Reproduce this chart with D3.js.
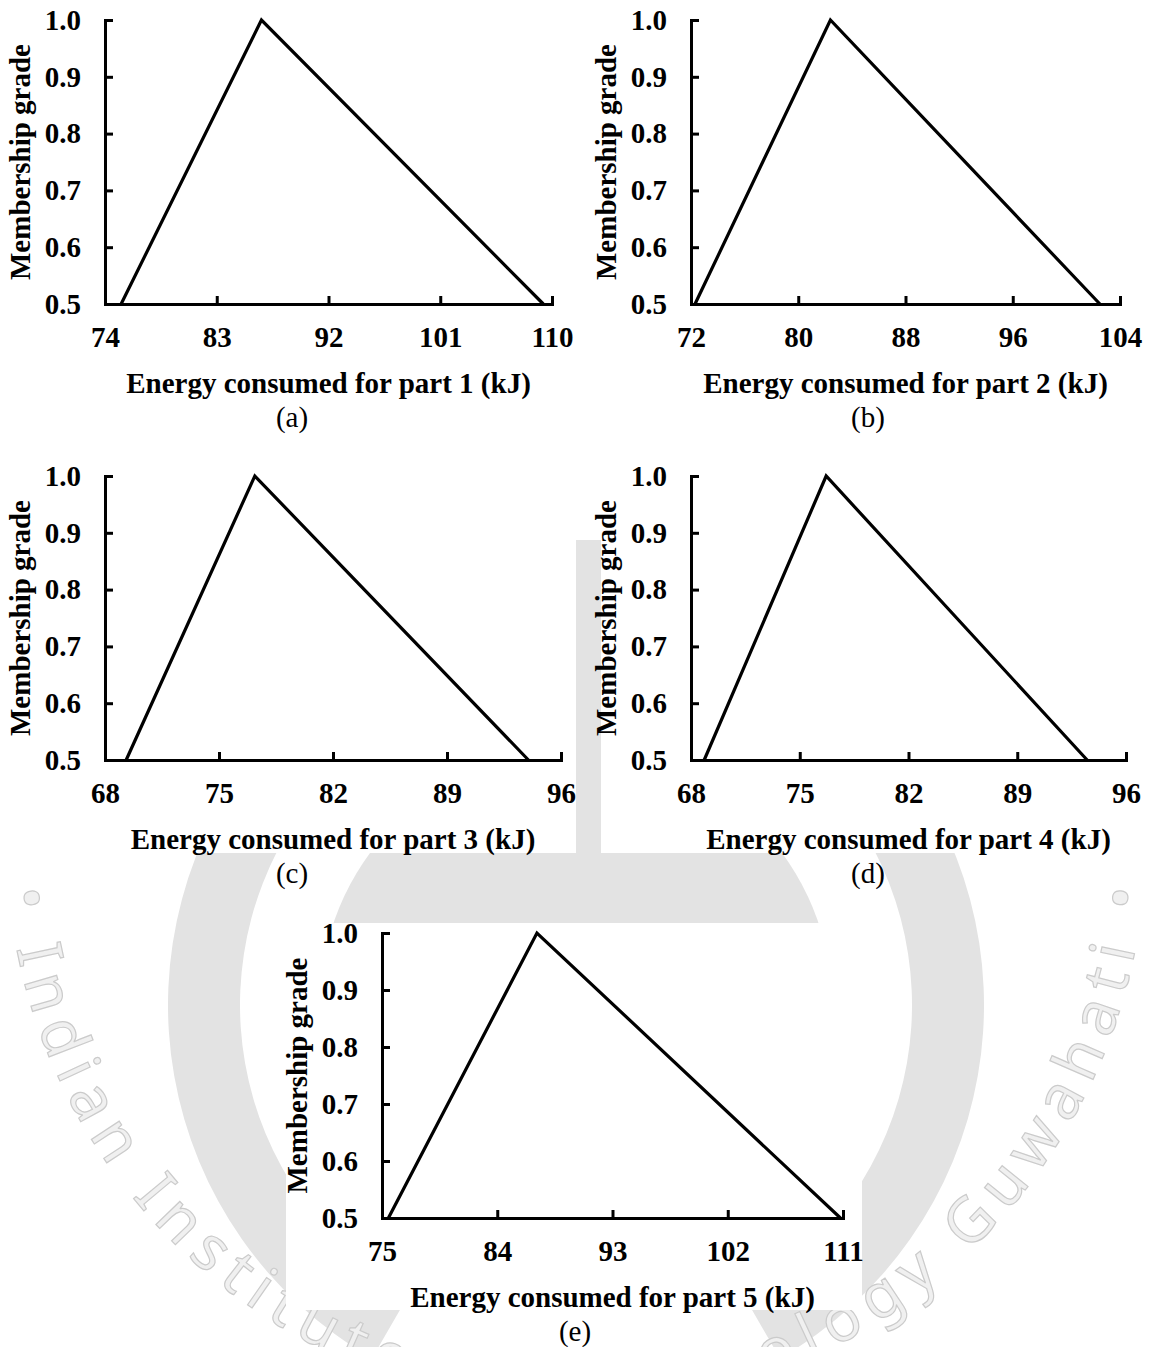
<!DOCTYPE html>
<html>
<head>
<meta charset="utf-8">
<script src="https://cdn.jsdelivr.net/npm/d3@7"></script>
<style>
  html, body { margin: 0; padding: 0; background: #fff; }
  svg { display: block; }
  .axis path, .axis line { stroke: #000; stroke-width: 3; }
  .axis text { font-family: "Liberation Serif", "Times New Roman", serif; font-weight: bold; font-size: 29px; fill: #000; }
  .title { font-family: "Liberation Serif", "Times New Roman", serif; font-weight: bold; font-size: 29px; fill: #000; }
  .tag { font-family: "Liberation Serif", "Times New Roman", serif; font-size: 29px; fill: #000; }
  .sealGlyph { font-family: "Noto Sans", "DejaVu Sans", sans-serif; font-size: 62px; fill: #f0f0f0; stroke: #cbcbcb; stroke-width: 1.2; white-space: pre; }
</style>
</head>
<body>
<svg id="chart" width="1151" height="1347"></svg>
<script>
// Triangular fuzzy membership functions of the energy consumed per part
const panelTags = ["(a)", "(b)", "(c)", "(d)", "(e)"];
const xTitles = [
  "Energy consumed for part 1 (kJ)",
  "Energy consumed for part 2 (kJ)",
  "Energy consumed for part 3 (kJ)",
  "Energy consumed for part 4 (kJ)",
  "Energy consumed for part 5 (kJ)"
];
const yTitle = "Membership grade";
const xTickValues = [
  [74, 83, 92, 101, 110],
  [72, 80, 88, 96, 104],
  [68, 75, 82, 89, 96],
  [68, 75, 82, 89, 96],
  [75, 84, 93, 102, 111]
];
const yTickValues = [0.5, 0.6, 0.7, 0.8, 0.9, 1.0];
const lowerEnergy = [75.3, 72.3, 69.3, 68.85, 75.5];
const peakEnergy  = [86.6, 82.4, 77.2, 76.7, 87.1];
const upperEnergy = [109.3, 102.5, 94.0, 93.5, 110.8];
const gradeAtEnds = 0.5;
const gradeAtPeak = 1.0;
const watermarkText = "Indian Institute of Technology Guwahati";

// plot-area placement of each panel (left, right, top, bottom) and its caption column
const frames = [
  { l: 105, r: 552,  t: 20,  b: 304,  tagX: 292 },
  { l: 691, r: 1120, t: 20,  b: 304,  tagX: 868 },
  { l: 105, r: 561,  t: 476, b: 760,  tagX: 292 },
  { l: 691, r: 1126, t: 476, b: 760,  tagX: 868 },
  { l: 382, r: 843,  t: 933, b: 1218, tagX: 575 }
];
// white backing cards over the faint seal
const cards = [
  { x: 0,   y: 0,   w: 1151, h: 440 },
  { x: 0,   y: 465, w: 576,  h: 388 },
  { x: 601, y: 465, w: 550,  h: 388 },
  { x: 286, y: 923, w: 576,  h: 387 }
];

const svg = d3.select("#chart");

// ---- faint institutional seal in the background ----
const seal = svg.append("g").attr("class", "seal");
const sealGrey = "#e3e3e3";
const cx = 576, cy = 1005;
const ringArc = d3.arc()
  .innerRadius(336).outerRadius(408)
  .startAngle(Math.PI + Math.PI / 6)
  .endAngle(3 * Math.PI - Math.PI / 6);
seal.append("path")
  .attr("transform", `translate(${cx},${cy})`)
  .attr("d", ringArc())
  .attr("fill", sealGrey);
seal.append("circle")
  .attr("cx", cx).attr("cy", cy).attr("r", 256)
  .attr("fill", sealGrey);
seal.append("rect")
  .attr("x", 560).attr("y", 540).attr("width", 56).attr("height", 330)
  .attr("fill", sealGrey);

// lettering set glyph by glyph along the lower arc, tops towards the centre
const tcx = 576, tcy = 839, tr = 570;
const a0 = 175 * Math.PI / 180, a1 = 5 * Math.PI / 180;
const arcLen = tr * (a0 - a1);
const glyphs = Array.from("\u2022 " + watermarkText + " \u2022");
const probe = seal.append("text").attr("class", "sealGlyph");
const widthOf = s => { probe.text(s); return probe.node().getComputedTextLength(); };
const spaceW = widthOf("a a") - widthOf("aa");
const widths = glyphs.map(c => c === " " ? spaceW : widthOf(c));
probe.remove();
const natural = d3.sum(widths);
const extra = (arcLen - natural) / (glyphs.length - 1);
let run = 0;
const placed = glyphs.map((c, i) => {
  const s = run + widths[i] / 2;
  run += widths[i] + extra;
  const th = a0 - s / tr;
  return {
    c,
    x: tcx + tr * Math.cos(th),
    y: tcy + tr * Math.sin(th),
    rot: Math.atan2(-Math.cos(th), Math.sin(th)) * 180 / Math.PI
  };
}).filter(d => d.c !== " ");
seal.selectAll("text.sealGlyph")
  .data(placed)
  .join("text")
  .attr("class", "sealGlyph")
  .attr("text-anchor", "middle")
  .attr("transform", d => `translate(${d.x},${d.y}) rotate(${d.rot})`)
  .text(d => d.c);

svg.selectAll("rect.card")
  .data(cards)
  .join("rect")
  .attr("class", "card")
  .attr("x", d => d.x).attr("y", d => d.y)
  .attr("width", d => d.w).attr("height", d => d.h)
  .attr("fill", "#fff");

// ---- the five membership panels ----
frames.forEach((f, i) => {
  const ticks = xTickValues[i];
  const x = d3.scaleLinear().domain([ticks[0], ticks[ticks.length - 1]]).range([f.l, f.r]);
  const y = d3.scaleLinear().domain([gradeAtEnds, gradeAtPeak]).range([f.b, f.t]);
  const g = svg.append("g").attr("class", "panel");

  g.append("g")
    .attr("class", "axis")
    .attr("transform", `translate(0,${f.b})`)
    .call(d3.axisBottom(x).tickValues(ticks).tickFormat(d3.format("d"))
      .tickSizeInner(-8).tickSizeOuter(0).tickPadding(22));

  g.append("g")
    .attr("class", "axis")
    .attr("transform", `translate(${f.l},0)`)
    .call(d3.axisLeft(y).tickValues(yTickValues).tickFormat(d3.format(".1f"))
      .tickSizeInner(-8).tickSizeOuter(0).tickPadding(24));

  g.selectAll(".axis path").attr("stroke-linecap", "square");

  const pts = [
    [lowerEnergy[i], gradeAtEnds],
    [peakEnergy[i], gradeAtPeak],
    [upperEnergy[i], gradeAtEnds]
  ];
  g.append("path")
    .datum(pts)
    .attr("fill", "none")
    .attr("stroke", "#000")
    .attr("stroke-width", 3.2)
    .attr("stroke-linejoin", "miter")
    .attr("d", d3.line().x(d => x(d[0])).y(d => y(d[1])));

  g.append("text")
    .attr("class", "title")
    .attr("x", (f.l + f.r) / 2)
    .attr("y", f.b + 89)
    .attr("text-anchor", "middle")
    .text(xTitles[i]);

  g.append("text")
    .attr("class", "title")
    .attr("transform", `translate(${f.l - 75},${(f.t + f.b) / 2}) rotate(-90)`)
    .attr("text-anchor", "middle")
    .text(yTitle);

  g.append("text")
    .attr("class", "tag")
    .attr("x", f.tagX)
    .attr("y", f.b + 123)
    .attr("text-anchor", "middle")
    .text(panelTags[i]);
});
</script>
</body>
</html>
